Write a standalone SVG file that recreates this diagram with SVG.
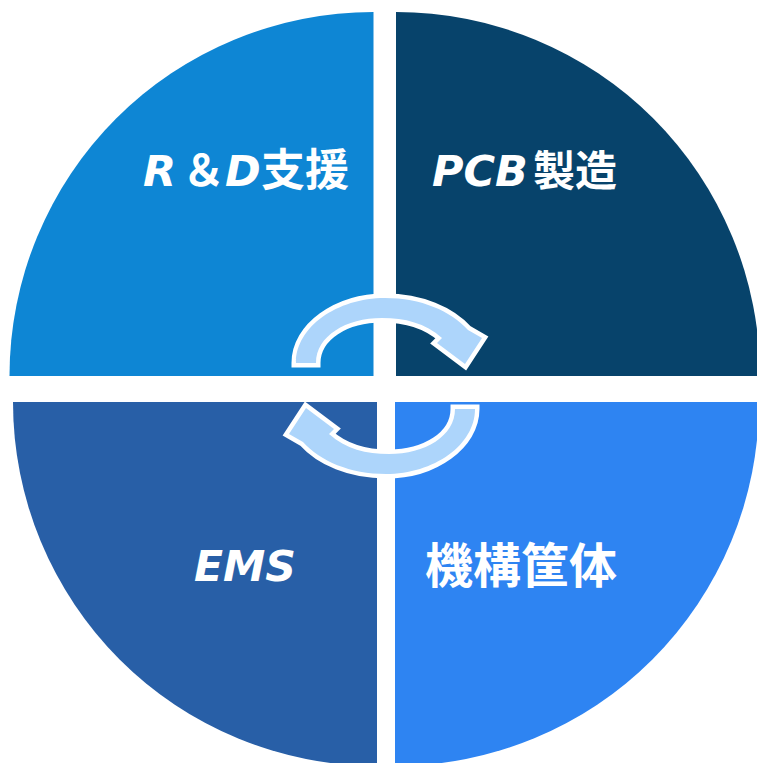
<svg xmlns="http://www.w3.org/2000/svg" width="757" height="763" viewBox="0 0 757 763">
<defs>
<style>
.lbl{font-family:"DejaVu Sans","Noto Sans CJK JP",sans-serif;font-weight:bold;fill:#ffffff;}
.it{font-style:italic;}
.cjk{font-family:"Noto Sans CJK JP","Noto Sans CJK SC",sans-serif;font-style:normal;}
.arrow{fill:#ADD5FB;stroke:#ffffff;stroke-width:9;paint-order:stroke;stroke-linejoin:miter;stroke-miterlimit:6;}
</style>
<path id="cyc" d="M296,363 C296,327 337,298 385,298 C421,298 451,311 468,330 L482,338 L465,364 L437,343 L442,338 C425,323 405,318 382,318 C346,318 316,336 316,363 Z"/>
</defs>
<rect width="757" height="763" fill="#ffffff"/>
<g id="rd">
<path d="M373.5,376 L9.5,376 A364,364 0 0 1 373.5,12 Z" fill="#0E86D4"/>
<text class="lbl" y="186" font-size="43"><tspan class="it" x="143">R</tspan><tspan class="it cjk" x="182">＆</tspan><tspan class="it" x="225">D</tspan><tspan class="cjk" x="261" font-size="44">支援</tspan></text>
</g>
<g id="pcb">
<path d="M396,376 L396,12 A364,364 0 0 1 760,376 Z" fill="#07436B"/>
<text class="lbl" y="186" font-size="43"><tspan class="it" x="432">PCB</tspan><tspan class="cjk" x="533" font-size="42">製造</tspan></text>
</g>
<g id="ems">
<path d="M377,402 L377,766 A364,364 0 0 1 13,402 Z" fill="#285FA7"/>
<text class="lbl it" x="194" y="581" font-size="42.5">EMS</text>
</g>
<g id="mech">
<path d="M395,402 L759,402 A364,364 0 0 1 395,766 Z" fill="#2E84F2"/>
<text class="lbl cjk" x="425" y="583" font-size="48">機構筐体</text>
</g>
<g id="connectors">
<use href="#cyc" class="arrow"/>
<use href="#cyc" class="arrow" transform="rotate(180 385.5 386)"/>
</g>
</svg>
